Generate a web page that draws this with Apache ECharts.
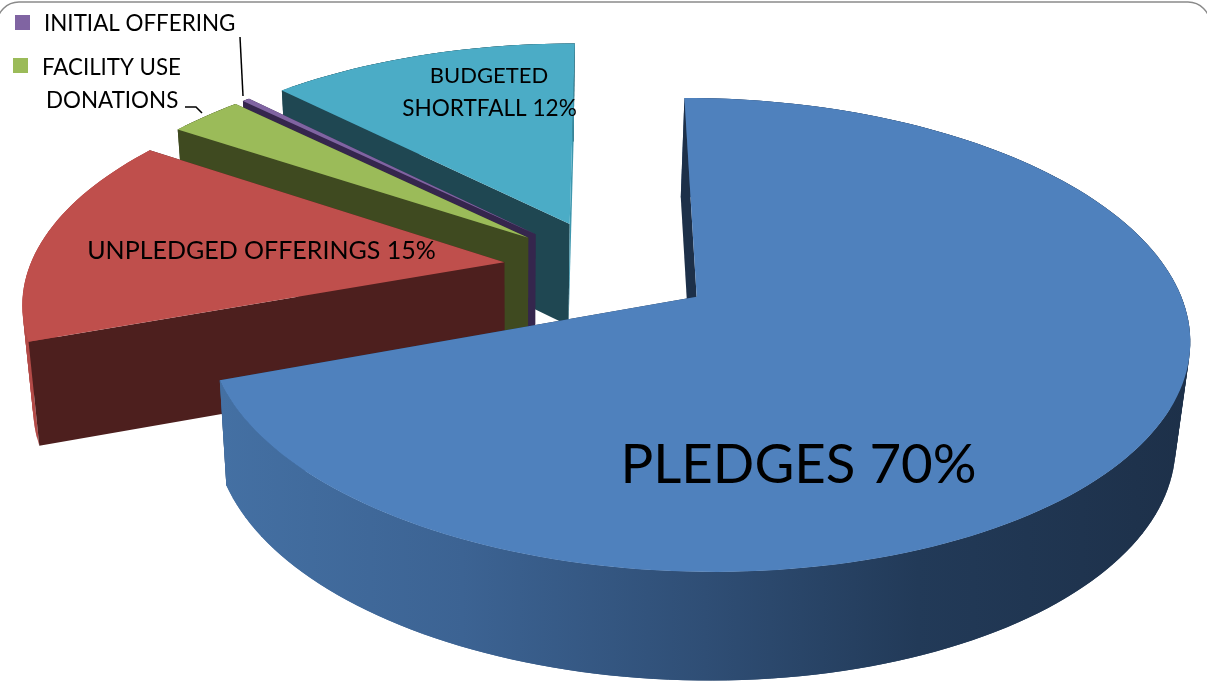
<!DOCTYPE html>
<html><head><meta charset="utf-8">
<style>html,body{margin:0;padding:0;background:#fff}#c{width:1207px;height:686px}</style>
<script src="https://cdn.jsdelivr.net/npm/echarts@6/dist/echarts.min.js"></script>
</head><body><div id="c"></div>
<script>
// clockwise order, starting near 12 o'clock
const categories = ['PLEDGES','UNPLEDGED OFFERINGS','FACILITY USE DONATIONS','INITIAL OFFERING','BUDGETED SHORTFALL'];
const values = [70, 15, 3, 0.3, 12.5];
const topColors = ['#4f81bd','#bf4f4c','#9bbb59','#8064a2','#4bacc6'];
const wallColors = ['#1d3049','#4d1f1e','#3f4a20','#35264d','#1f4752'];
const paintOrder = [4,3,2,1,0];

const START = 0, EXPLODE = 0.222, GX = 608.5, GY = 268, W = 475, K = 221.7, Q = 0.1576, H = 102.6, FX = 0.978, FY = 0.947, SHIFT = 2;
const total = values.reduce((a,b)=>a+b,0);
const rad = d => d*Math.PI/180;
function proj(X, Y, bottom){
  const s = 1/(1+Q*Y);
  const dx = W*X*s, dy = -K*Y*s;
  if(!bottom) return [GX+dx, GY+dy];
  return [GX+dx*FX-SHIFT, GY+dy*FY+H*s];
}
const side = (a,b,p) => (b[0]-a[0])*(p[1]-a[1])-(b[1]-a[1])*(p[0]-a[0]);
function renderSlice(params, api){
  const i = api.value(0), base = params.dataIndex*10;
  let acc = 0; for(let k=0;k<i;k++) acc += values[k];
  const a0 = START+acc/total*360, a1 = a0+values[i]/total*360, mid=(a0+a1)/2;
  const ox = EXPLODE*Math.sin(rad(mid)), oy = EXPLODE*Math.cos(rad(mid));
  const n = Math.max(4, Math.ceil((a1-a0)/1.5));
  const rimT=[], rimB=[];
  for(let j=0;j<=n;j++){
    const a = rad(a0+(a1-a0)*j/n), X=ox+Math.sin(a), Y=oy+Math.cos(a);
    rimT.push(proj(X,Y,false)); rimB.push(proj(X,Y,true));
  }
  const apT = proj(ox,oy,false), apB = proj(ox,oy,true), M = rimT[n>>1];
  const poly = (pts, fill, z) => ({type:'polygon', z2:base+z, shape:{points:pts}, style:{fill, stroke:null}});
  const wallZ = k => side(apT,rimT[k],M)*side(apT,rimT[k],apB) < 0 ? 3 : 1;
  const children = [
    poly([apT, rimT[0], rimB[0], apB], wallColors[i], wallZ(0)),
    poly([apT, rimT[n], rimB[n], apB], i===4 ? '#3d97ae' : wallColors[i], wallZ(n))
  ];
  const xs = rimT.concat(rimB).map(p=>p[0]);
  const rimFill = i===0 ? new echarts.graphic.LinearGradient(Math.min(...xs),0,Math.max(...xs),0,[
      {offset:0,color:'#4470a3'},{offset:0.25,color:'#3c6393'},{offset:0.5,color:'#2f4e75'},
      {offset:0.72,color:'#223a58'},{offset:1,color:'#1d3049'}],true)
    : i===1 ? '#b34b48' : wallColors[i];
  // overlapping quads: the ribbon stays seamless and keeps its straight silhouette at the sides
  for(let j=0;j<n;j++){ const e=Math.min(j+2,n); children.push(poly([rimT[j],rimT[e],rimB[e],rimB[j]], rimFill, 2)); }
  children.push(poly([apT].concat(rimT), topColors[i], 4));
  return {type:'group', children};
}
const chart = echarts.init(document.getElementById('c'), null, {renderer:'canvas'});
const FONT = 'Lato, "Open Sans", sans-serif';
const txt = (text,x,y,size,align) => ({type:'text', z:10, x, y, style:{text, fontFamily:FONT, fontSize:size, fill:'#000', textAlign:align||'left', textVerticalAlign:'middle'}});
chart.setOption({
  animation:false,
  backgroundColor:'#fff',
  series:[{
    type:'custom', coordinateSystem:'none', renderItem:renderSlice, silent:true,
    data: paintOrder.map(i=>({name:categories[i], value:[i, values[i]]}))
  }],
  graphic:[
    {type:'rect', z:0, shape:{x:-3,y:2,width:1213,height:720,r:22}, style:{fill:'none',stroke:'#8a8a8a',lineWidth:1.5}},
    {type:'rect', z:10, shape:{x:15,y:15,width:15,height:15}, style:{fill:topColors[3]}},
    {type:'rect', z:10, shape:{x:13,y:58,width:15,height:15}, style:{fill:topColors[2]}},
    txt(categories[3],44,24,22.4),
    txt('FACILITY USE',42,68,22.3),
    txt('DONATIONS',46,101,22.4),
    txt('BUDGETED',489,76,22,'center'),
    txt('SHORTFALL 12%',489.5,109,22.6,'center'),
    txt('UNPLEDGED OFFERINGS 15%',261.5,251,25,'center'),
    txt('PLEDGES 70%',798.5,465,54.6,'center'),
    {type:'polyline', z:10, shape:{points:[[240,37],[243,96]]}, style:{stroke:'#000',lineWidth:1.5,fill:null}},
    {type:'polyline', z:10, shape:{points:[[185,107],[196,107],[202,113]]}, style:{stroke:'#000',lineWidth:1.5,fill:null}}
  ]
});
</script></body></html>
